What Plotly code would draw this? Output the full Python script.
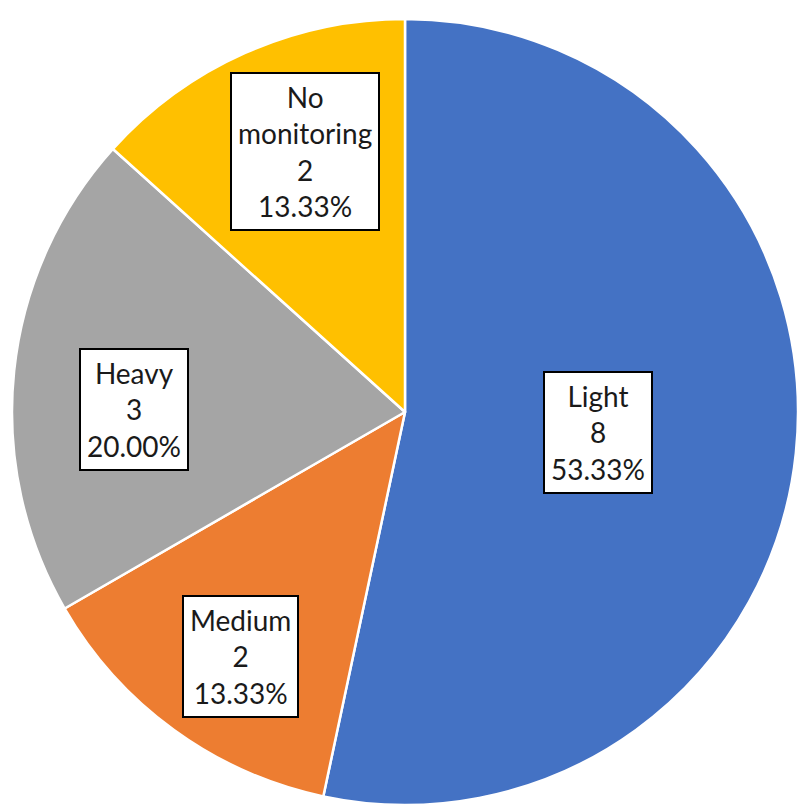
import math
import plotly.graph_objects as go

# Monitoring level breakdown
categories = ["Light", "Medium", "Heavy", "No monitoring"]
counts = [8, 2, 3, 2]
colors = ["#4472C4", "#ED7D31", "#A5A5A5", "#FFC000"]

# Label placement: fraction of the radius and a small angular nudge (degrees)
label_radius = [0.495, 0.75, 0.69, 0.71]
label_turn = [0, -2, -5.5, 3]

W, H = 798, 809
# Pie domain in pixels (left, top, right, bottom)
dom_px = (12, 15, 798, 809)
dom_x = [dom_px[0] / W, dom_px[2] / W]
dom_y = [1 - dom_px[3] / H, 1 - dom_px[1] / H]

fig = go.Figure(
    go.Pie(
        labels=categories,
        values=counts,
        marker=dict(colors=colors, line=dict(color="white", width=2.5)),
        sort=False,
        direction="clockwise",
        rotation=0,
        textinfo="none",
        hoverinfo="label+value+percent",
        domain=dict(x=dom_x, y=dom_y),
    )
)

# Pie geometry in pixels, as plotly lays it out inside the domain
cx = (dom_px[0] + dom_px[2]) / 2
cy = (dom_px[1] + dom_px[3]) / 2
R = min(dom_px[2] - dom_px[0], dom_px[3] - dom_px[1]) / 2

total = sum(counts)
start = 0.0
for name, val, frac, turn in zip(categories, counts, label_radius, label_turn):
    span = 360.0 * val / total
    mid = math.radians(start + span / 2 + turn)
    start += span
    px = cx + frac * R * math.sin(mid)
    py = cy - frac * R * math.cos(mid)
    pct = 100.0 * val / total
    label = name.replace(" ", "<br>")
    fig.add_annotation(
        x=px / W,
        y=1 - py / H,
        xref="paper",
        yref="paper",
        xanchor="center",
        yanchor="middle",
        showarrow=False,
        text=f"{label}<br>{val}<br>{pct:.2f}%",
        align="center",
        font=dict(family="Lato", size=28, color="#1a1a1a"),
        bgcolor="white",
        bordercolor="black",
        borderwidth=2,
        borderpad=6,
    )

fig.update_layout(
    width=W,
    height=H,
    margin=dict(l=0, r=0, t=0, b=0),
    paper_bgcolor="white",
    plot_bgcolor="white",
    showlegend=False,
)

fig.write_html("out.html")
